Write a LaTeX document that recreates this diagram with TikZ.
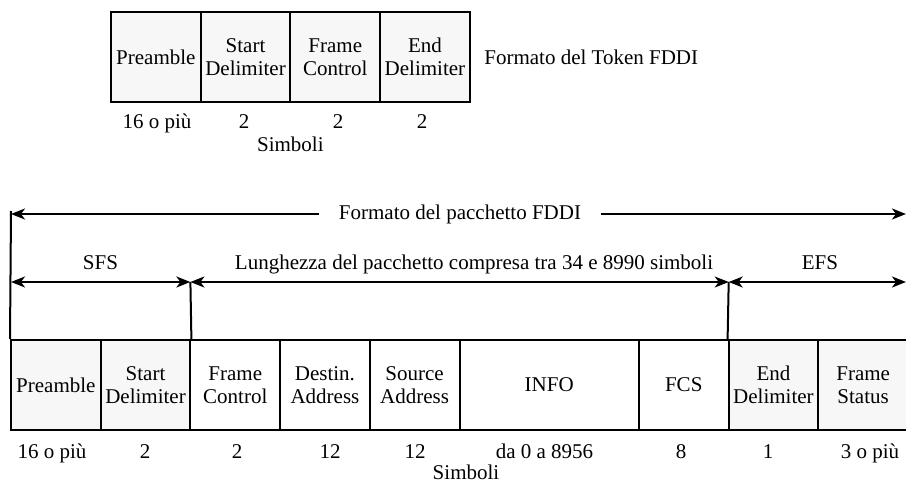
\documentclass[tikz,border=0pt]{standalone}
\usepackage{fontspec}
\setmainfont{Liberation Serif}
\usetikzlibrary{arrows.meta}

\tikzset{
  cell/.style={draw, line width=2pt, minimum width=89.7pt, minimum height=90pt,
    inner sep=0pt, align=center, fill=white},
  greycell/.style={cell, fill=black!3},
  wide/.style={minimum width=179.4pt},
  lbl/.style={anchor=base},
  tip/.style={line width=2pt, -{Stealth[length=14pt,width=11pt,inset=4pt]}},
  twotip/.style={line width=2pt, {Stealth[length=14pt,width=11pt,inset=4pt]}-{Stealth[length=14pt,width=11pt,inset=4pt]}},
}

\begin{document}
\begin{tikzpicture}[x=1pt,y=-1pt, line width=2pt, font=\fontsize{21pt}{22.5pt}\selectfont]
\useasboundingbox (0,0) rectangle (906,490);

% =========================
% token
% =========================
\begin{scope}[shift={(111,0)}]
  % fields
  \node[greycell] (tpre) at (44.85,57) {Preamble};
  \node[greycell] (tsd)  at (134.55,57) {Start\\Delimiter};
  \node[greycell] (tfc)  at (224.25,57) {Frame\\Control};
  \node[greycell] (ted)  at (313.95,57) {End\\Delimiter};

  % title
  \node[anchor=west] (ttitle) at (369,57) {Formato del Token FDDI};

  % lengths
  \node[lbl] (tnpre) at (46,128) {16 o più};
  \node[lbl] (tnsd)  at (133,128) {2};
  \node[lbl] (tnfc)  at (227,128) {2};
  \node[lbl] (tned)  at (311,128) {2};
  \node[lbl] (tsimb) at (179.4,151) {Simboli};
\end{scope}

% =========================
% packet
% =========================
\begin{scope}[shift={(11,0)}]
  % fields
  \node[greycell] (ppre)  at (44.85,385) {Preamble};
  \node[greycell] (psd)   at (134.55,385) {Start\\Delimiter};
  \node[cell]     (pfc)   at (224.25,385) {Frame\\Control};
  \node[cell]     (pda)   at (313.95,385) {Destin.\\Address};
  \node[cell]     (psa)   at (403.65,385) {Source\\Address};
  \node[cell,wide] (pinfo) at (538.2,385) {INFO};
  \node[cell]     (pfcs)  at (672.75,385) {FCS};
  \node[greycell] (ped)   at (762.45,385) {End\\Delimiter};
  \node[greycell] (pfs)   at (852.15,385) {Frame\\Status};

  % lengths
  \node[lbl] (pnpre)  at (41,458) {16 o più};
  \node[lbl] (pnsd)   at (134,458) {2};
  \node[lbl] (pnfc)   at (226,458) {2};
  \node[lbl] (pnda)   at (319,458) {12};
  \node[lbl] (pnsa)   at (404,458) {12};
  \node[lbl] (pninfo) at (533.5,458) {da 0 a 8956};
  \node[lbl] (pnfcs)  at (670,458) {8};
  \node[lbl] (pned)   at (757,458) {1};
  \node[lbl] (pnfs)   at (859,458) {3 o più};
  \node[lbl] (psimb)  at (455,479) {Simboli};
\end{scope}

% =========================
% dimensions
% =========================
\coordinate (vtop) at (11,211);
\coordinate (topL) at (11,214);
\coordinate (topR) at (906,214);
\coordinate (sfsL) at (11,282);
\coordinate (sfsR) at (190.4,282);
\coordinate (efsL) at (728.7,282);
\coordinate (efsR) at (906,282);

% whole packet
\node[inner xsep=19pt] (ptitle) at (460,214) {Formato del pacchetto FDDI};
\draw[tip] (ptitle.west) -- (topL);
\draw[tip] (ptitle.east) -- (topR);

% parts
\node[lbl] (sfs)  at (100.5,269) {SFS};
\node[lbl] (lung) at (474,269) {Lunghezza del pacchetto compresa tra 34 e 8990 simboli};
\node[lbl] (efs)  at (820,269) {EFS};
\draw[twotip] (sfsL) -- (sfsR);
\draw[twotip] (sfsR) -- (efsL);
\draw[twotip] (efsL) -- (efsR);

% vertical edges
\draw (ppre.north west) -- (vtop);
\draw (psd.north east) -- (sfsR);
\draw (ped.north west) -- (efsL);

\end{tikzpicture}
\end{document}
